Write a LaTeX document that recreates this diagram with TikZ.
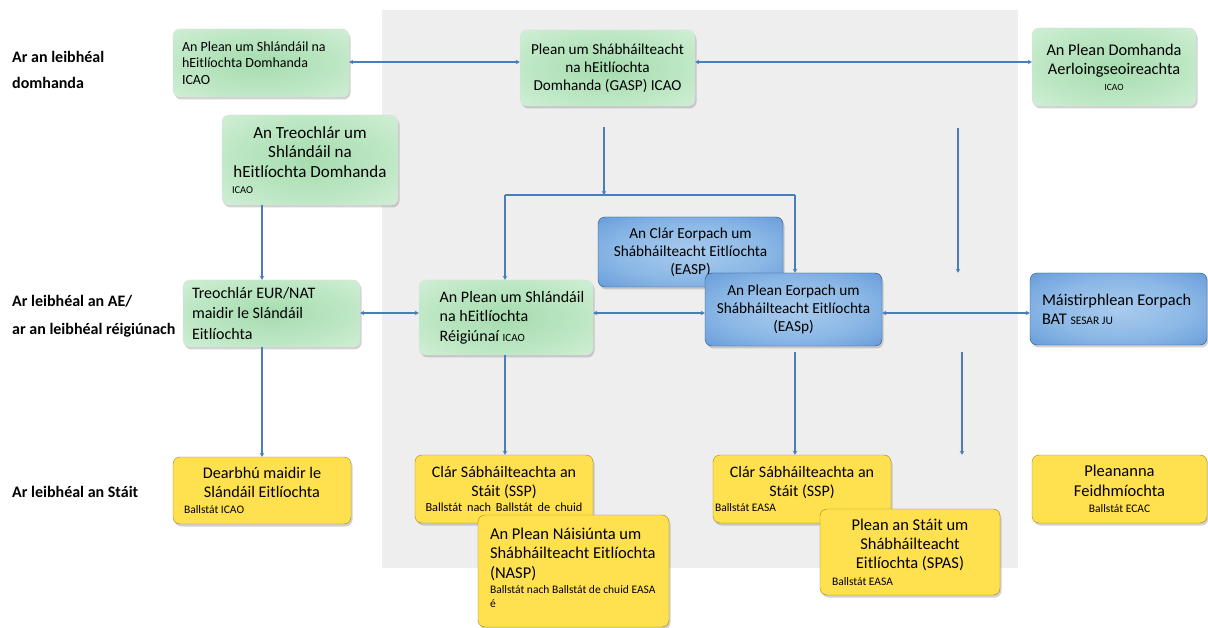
\documentclass[tikz,border=0pt]{standalone}
\usepackage{fontspec}
\setmainfont{Carlito}
\usetikzlibrary{shadows,arrows.meta,calc}
\definecolor{lineblue}{HTML}{4A7EBB}
\definecolor{bgray}{HTML}{EEEEEE}
\definecolor{ga}{HTML}{A6DCAF}
\definecolor{gb}{HTML}{BDE7C4}
\definecolor{gc}{HTML}{DAF2DD}
\definecolor{gd}{HTML}{E6F6E8}
\definecolor{ge}{HTML}{F6FCF7}
\definecolor{ba}{HTML}{A9CBEE}
\definecolor{bb}{HTML}{8CB8E6}
\definecolor{bc}{HTML}{6399D8}
\definecolor{bd}{HTML}{3C77BE}
\definecolor{be}{HTML}{3366A8}
\definecolor{ytop}{HTML}{FFF09A}
\definecolor{ymid}{HTML}{FFE150}
\definecolor{ybot}{HTML}{CDA21A}
\pgfdeclareradialshading{gshade}{\pgfpoint{0bp}{0bp}}{color(0bp)=(ga); color(22bp)=(gb); color(42bp)=(gc); color(50bp)=(gd); color(72bp)=(ge)}
\pgfdeclareradialshading{bshade}{\pgfpoint{0bp}{0bp}}{color(0bp)=(ba); color(20bp)=(bb); color(38bp)=(bc); color(50bp)=(bd); color(72bp)=(be)}
\pgfdeclareverticalshading{yshade}{100bp}{color(0bp)=(ybot); color(12bp)=(ybot!40!ymid); color(25bp)=(ymid); color(85bp)=(ymid); color(94bp)=(ytop); color(100bp)=(ytop)}
\newcommand{\fs}[1]{\fontsize{#1}{1.17\dimexpr #1pt\relax}\selectfont}
\newcommand{\smalltxt}{\fontsize{11.5}{13}\selectfont}
\newcommand{\boxc}[2]{\makebox[#1pt][c]{#2}}
\newcommand{\boxl}[2]{\makebox[#1pt][l]{#2}}
\newcommand{\boxs}[2]{\makebox[#1pt][s]{#2}}
\begin{document}
\begin{tikzpicture}[x=1pt,y=-1pt,
  box/.style={rounded corners=7pt, inner xsep=0pt, inner ysep=2pt,
    drop shadow={shadow xshift=1.5pt,shadow yshift=-2.5pt,opacity=0.35}},
  gbox/.style={box, shading=gshade, draw=gray!25, line width=0.4pt},
  bbox/.style={box, shading=bshade, draw=be!80!black, line width=0.4pt},
  ybox/.style={box, shading=yshade, draw=ybot!80!black, line width=0.4pt},
  conn/.style={draw=lineblue, line width=1.6pt},
  tip/.style={-{Stealth[length=4pt,width=4.5pt]}},
  tips/.style={{Stealth[length=4pt,width=4.5pt]}-{Stealth[length=4pt,width=4.5pt]}},
  rowlabel/.style={anchor=west, font=\bfseries\fs{16}, inner sep=0pt}
]
\useasboundingbox (0,0) rectangle (1208,628);
\fill[white] (0,0) rectangle (1208,628);
\fill[bgray] (382,10) rectangle (1018,568);

% row labels
\node[rowlabel] (r1a) at (12,57) {Ar an leibhéal};
\node[rowlabel] (r1b) at (12,83) {domhanda};
\node[rowlabel] (r2a) at (12,301) {Ar leibhéal an AE/};
\node[rowlabel] (r2b) at (12,330) {ar an leibhéal réigiúnach};
\node[rowlabel] (r3) at (12,492) {Ar leibhéal an Stáit};

% global level
\node[gbox, minimum width=176pt, minimum height=68pt, align=left, font=\fontsize{14}{16.5}\selectfont] (A1) at (261,63)
  {\boxl{158}{An Plean um Shlándáil na}\\hEitlíochta Domhanda\\ICAO};
\node[gbox, minimum width=175pt, minimum height=76pt, align=center, font=\fs{15.2}] (GASP) at (607.5,68)
  {Plean um Shábháilteacht\\na hEitlíochta\\Domhanda (GASP) ICAO};
\node[gbox, minimum width=164pt, minimum height=78pt, align=center, font=\fs{16.3}] (PD) at (1114,67)
  {An Plean Domhanda\\Aerloingseoireachta\\[-3pt]{\fontsize{9.5}{11}\selectfont ICAO}};
\node[gbox, minimum width=176pt, minimum height=90pt, align=left, font=\fs{17}] (TD) at (310,160)
  {\boxc{156}{An Treochlár um}\\\boxc{156}{Shlándáil na}\\\boxc{156}{hEitlíochta Domhanda}\\[-4pt]{\fontsize{10.5}{12}\selectfont ICAO}};

% regional level
\node[gbox, minimum width=177pt, minimum height=67pt, align=left, font=\fontsize{16}{20.5}\selectfont] (EN) at (271.5,313.5)
  {\boxl{159}{Treochlár EUR/NAT}\\maidir le Slándáil\\Eitlíochta};
\node[gbox, minimum width=174pt, minimum height=75pt, align=left, font=\fontsize{16}{19.5}\selectfont] (RP) at (506,317.5)
  {\hspace*{12pt}An Plean um Shlándáil\\\hspace*{12pt}na hEitlíochta\\\hspace*{12pt}Réigiúnaí {\fontsize{11}{12}\selectfont ICAO}};
\node[bbox, minimum width=185pt, minimum height=70pt, align=center, font=\fs{15.3}] (EASP) at (690.5,252)
  {An Clár Eorpach um\\Shábháilteacht Eitlíochta\\(EASP)};
\node[bbox, minimum width=177pt, minimum height=73pt, align=center, font=\fs{15.3}] (EASp) at (793.5,309.5)
  {An Plean Eorpach um\\Shábháilteacht Eitlíochta\\(EASp)};
\node[bbox, minimum width=177pt, minimum height=72pt, align=left, font=\fs{16.3}] (BAT) at (1118.5,309)
  {\boxl{153}{Máistirphlean Eorpach}\\BAT {\fontsize{11.5}{13}\selectfont SESAR JU}};

% state level
\node[ybox, minimum width=178pt, minimum height=67pt, align=left, font=\fs{16.2}] (DB) at (262,490.5)
  {\boxc{156}{Dearbhú maidir le}\\\boxc{156}{Slándáil Eitlíochta}\\[-3pt]{\smalltxt Ballstát ICAO}};
\node[ybox, minimum width=178pt, minimum height=68pt, align=left, font=\fs{16}] (SSPL) at (504,489)
  {\boxc{157}{Clár Sábháilteachta an}\\\boxc{157}{Stáit (SSP)}\\[-3pt]{\fontsize{12.3}{13}\selectfont\boxs{157}{Ballstát nach Ballstát de chuid}}};
\node[ybox, minimum width=191pt, minimum height=112pt, align=left, font=\fs{16.5}] (NASP) at (573.5,571)
  {\boxl{167}{An Plean Náisiúnta um}\\Shábháilteacht Eitlíochta\\(NASP)\\[-4pt]{\smalltxt Ballstát nach Ballstát de chuid EASA}\\[-5pt]{\smalltxt é\rule[-6pt]{0pt}{6pt}}};
\node[ybox, minimum width=178pt, minimum height=68pt, align=left, font=\fs{16}] (SSPR) at (802,489)
  {\boxc{174}{Clár Sábháilteachta an}\\\boxc{174}{Stáit (SSP)}\\[-3pt]{\smalltxt Ballstát EASA}};
\node[ybox, minimum width=180pt, minimum height=86pt, align=left, font=\fs{16.5}] (SPAS) at (910,552)
  {\boxc{156}{Plean an Stáit um}\\\boxc{156}{Shábháilteacht}\\\boxc{156}{Eitlíochta (SPAS)}\\[-3pt]{\smalltxt Ballstát EASA}};
\node[ybox, minimum width=175pt, minimum height=68pt, align=center, font=\fs{16.5}] (PF) at (1119.5,489)
  {Pleananna\\Feidhmíochta\\[-3pt]{\smalltxt Ballstát ECAC}};

% connector helper coordinates
\coordinate (ytop) at (0,62);
\coordinate (ymidl) at (0,313);
\coordinate (xTD) at (262,0);
\coordinate (xRP) at (505,0);
\coordinate (xG) at (604,0);
\coordinate (xE) at (795,0);
\coordinate (xPD) at (958,0);
\coordinate (xBAT) at (962,0);
\coordinate (barL) at (505,195);
\coordinate (barM) at (604,195);
\coordinate (barR) at (795,195);

% connectors
\draw[conn, tips] (A1.east |- ytop) -- (GASP.west |- ytop);
\draw[conn, tips] (GASP.east |- ytop) -- (PD.west |- ytop);
\draw[conn, tip, shorten <=21pt] (GASP.south -| xG) -- (barM);
\draw[conn] (barL) -- (barR);
\draw[conn, tip] (barL) -- (RP.north -| xRP);
\draw[conn, tip] (barR) -- (EASp.north -| xE);
\draw[conn, tip] (TD.south -| xTD) -- (EN.north -| xTD);
\draw[conn, tips] (EN.east |- ymidl) -- (RP.west |- ymidl);
\draw[conn, tips] (RP.east |- ymidl) -- (EASp.west |- ymidl);
\draw[conn, tips] (EASp.east |- ymidl) -- (BAT.west |- ymidl);
\draw[conn, tip, shorten <=22pt] (PD.south -| xPD) -- (BAT.north -| xPD);
\draw[conn, tip, shorten <=7pt] (BAT.south -| xBAT) -- (PF.north -| xBAT);
\draw[conn, tip] (EN.south -| xTD) -- (DB.north -| xTD);
\draw[conn, tip] (RP.south -| xRP) -- (SSPL.north -| xRP);
\draw[conn, tip, shorten <=6pt] (EASp.south -| xE) -- (SSPR.north -| xE);
\end{tikzpicture}
\end{document}
